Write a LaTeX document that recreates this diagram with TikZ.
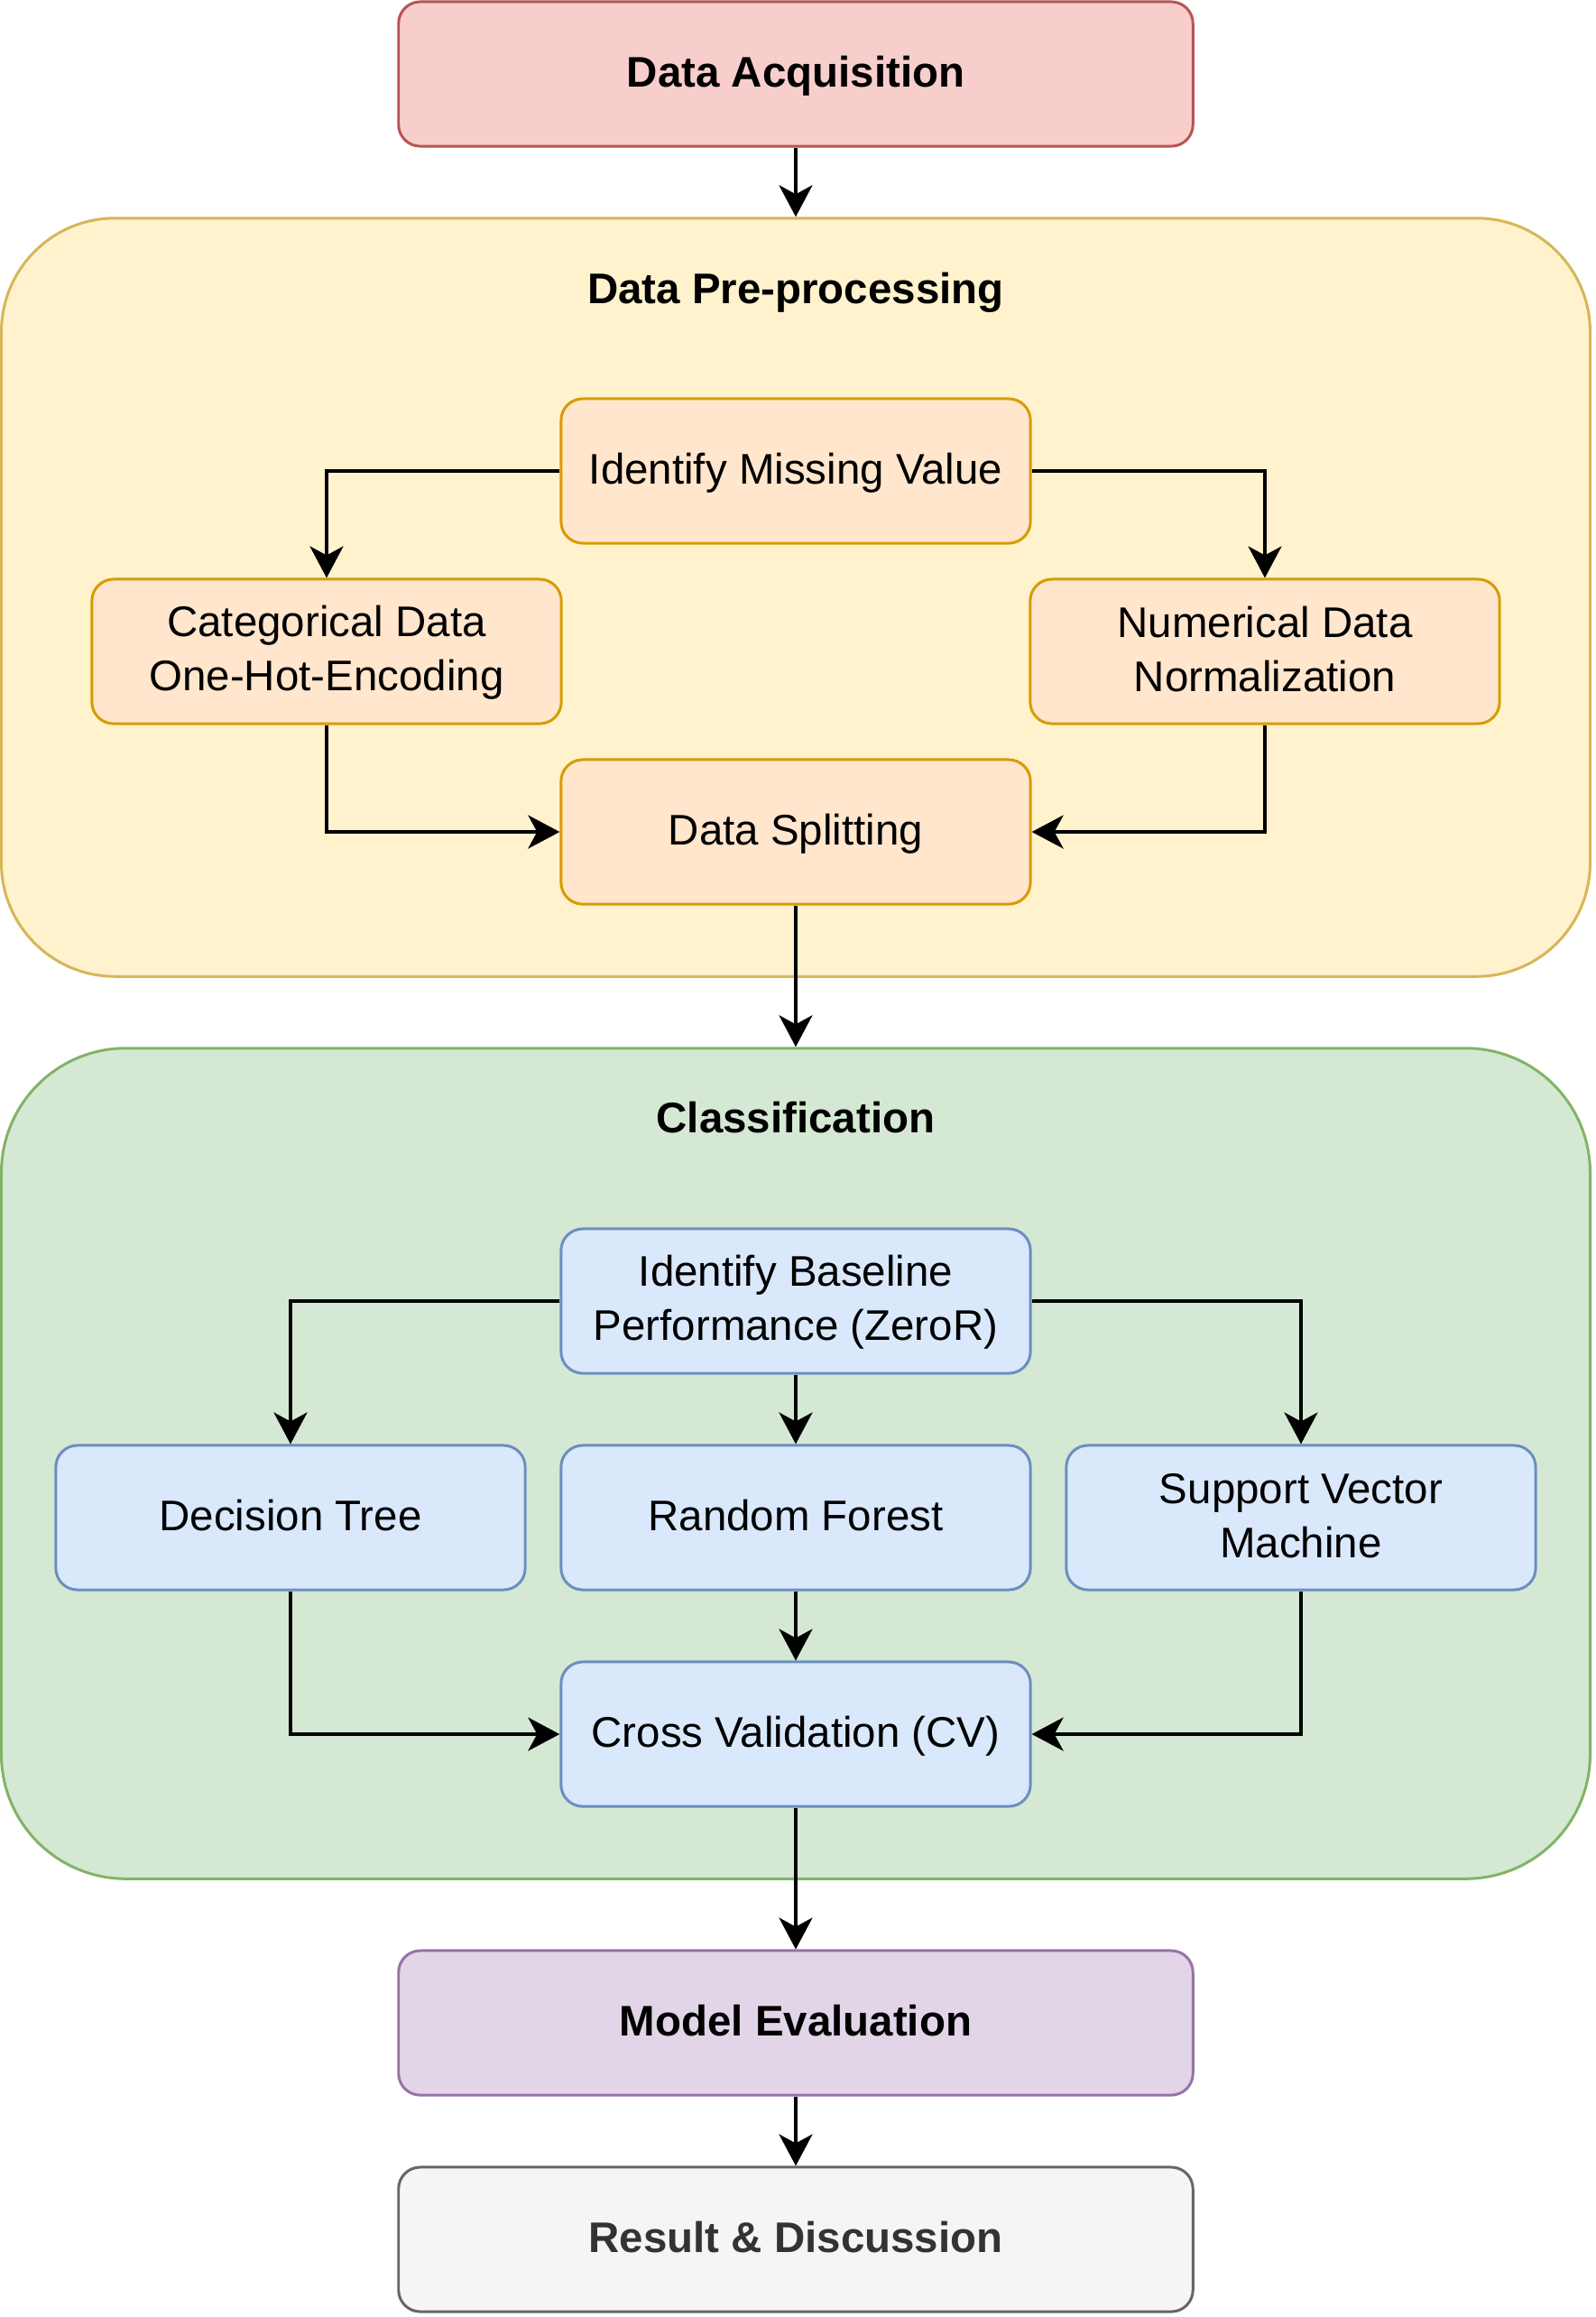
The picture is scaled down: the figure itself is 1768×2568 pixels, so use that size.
\documentclass[tikz,border=0pt]{standalone}
\usepackage{fontspec}
\setmainfont{Liberation Sans}
\usetikzlibrary{arrows.meta}
\definecolor{redF}{HTML}{F8CECC}\definecolor{redS}{HTML}{B85450}
\definecolor{yelF}{HTML}{FFF2CC}\definecolor{yelS}{HTML}{D6B656}
\definecolor{oraF}{HTML}{FFE6CC}\definecolor{oraS}{HTML}{D79B00}
\definecolor{grnF}{HTML}{D5E8D4}\definecolor{grnS}{HTML}{82B366}
\definecolor{bluF}{HTML}{DAE8FC}\definecolor{bluS}{HTML}{6C8EBF}
\definecolor{purF}{HTML}{E1D5E7}\definecolor{purS}{HTML}{9673A6}
\definecolor{gryF}{HTML}{F5F5F5}\definecolor{gryS}{HTML}{666666}
\definecolor{gryT}{HTML}{333333}
\newcommand\tstrut{\rule[-0.08cm]{0pt}{0.45cm}}
\tikzset{
  basefont/.style={font=\fontsize{13.5}{17.2}\selectfont},
  box/.style={draw, basefont, line width=0.85pt, rounded corners=0.24cm,
    minimum width=5.2cm, minimum height=1.6cm, inner sep=0pt, align=center},
  wide/.style={minimum width=8.8cm},
  oneline/.style={text height=0.37cm, text depth=0.08cm},
  container/.style={draw, line width=0.85pt, minimum width=17.6cm, inner sep=0pt},
  title/.style={basefont, oneline, inner sep=0pt},
  arr/.style={line width=1pt, -{Stealth[length=0.35cm, width=0.37cm, inset=0.1cm]}},
  orabox/.style={box, fill=oraF, draw=oraS},
  blubox/.style={box, fill=bluF, draw=bluS},
}
\begin{document}
\begin{tikzpicture}[x=0.01cm, y=-0.01cm]
\useasboundingbox (0,0) rectangle (1768,2568);
% containers
\node[container, fill=yelF, draw=yelS, minimum height=8.4cm, rounded corners=1.26cm] (pre) at (882,662) {};
\node[container, fill=grnF, draw=grnS, minimum height=9.2cm, rounded corners=1.38cm] (cls) at (882,1622) {};
\node[title] (pretitle) at (882,322) {\bfseries Data Pre-processing};
\node[title] (clstitle) at (882,1241) {\bfseries Classification};
% top and bottom boxes
\node[box, wide, oneline, fill=redF, draw=redS] (da) at (882,82) {\bfseries Data Acquisition};
\node[box, wide, oneline, fill=purF, draw=purS] (me) at (882,2242) {\bfseries Model Evaluation};
\node[box, wide, oneline, fill=gryF, draw=gryS, text=gryT] (res) at (882,2482) {\bfseries Result \& Discussion};
% pre-processing
\node[orabox, oneline] (imv) at (882,522) {Identify Missing Value};
\node[orabox] (cat) at (362,722) {\tstrut Categorical Data\\One-Hot-Encoding\tstrut};
\node[orabox] (num) at (1402,722) {\tstrut Numerical Data\\Normalization\tstrut};
\node[orabox, oneline] (ds) at (882,922) {Data Splitting};
% classification
\node[blubox] (base) at (882,1442) {\tstrut Identify Baseline\\Performance (ZeroR)\tstrut};
\node[blubox, oneline] (dt) at (322,1682) {Decision Tree};
\node[blubox, oneline] (rf) at (882,1682) {Random Forest};
\node[blubox] (svm) at (1442,1682) {\tstrut Support Vector\\Machine\tstrut};
\node[blubox, oneline] (cv) at (882,1922) {Cross Validation (CV)};
% connectors
\draw[arr] (da.south) -- (pre.north);
\draw[arr] (imv.west) -| (cat.north);
\draw[arr] (imv.east) -| (num.north);
\draw[arr] (cat.south) |- (ds.west);
\draw[arr] (num.south) |- (ds.east);
\draw[arr] (ds.south) -- (cls.north);
\draw[arr] (base.west) -| (dt.north);
\draw[arr] (base.east) -| (svm.north);
\draw[arr] (base.south) -- (rf.north);
\draw[arr] (dt.south) |- (cv.west);
\draw[arr] (svm.south) |- (cv.east);
\draw[arr] (rf.south) -- (cv.north);
\draw[arr] (cv.south) -- (me.north);
\draw[arr] (me.south) -- (res.north);
\end{tikzpicture}
\end{document}
